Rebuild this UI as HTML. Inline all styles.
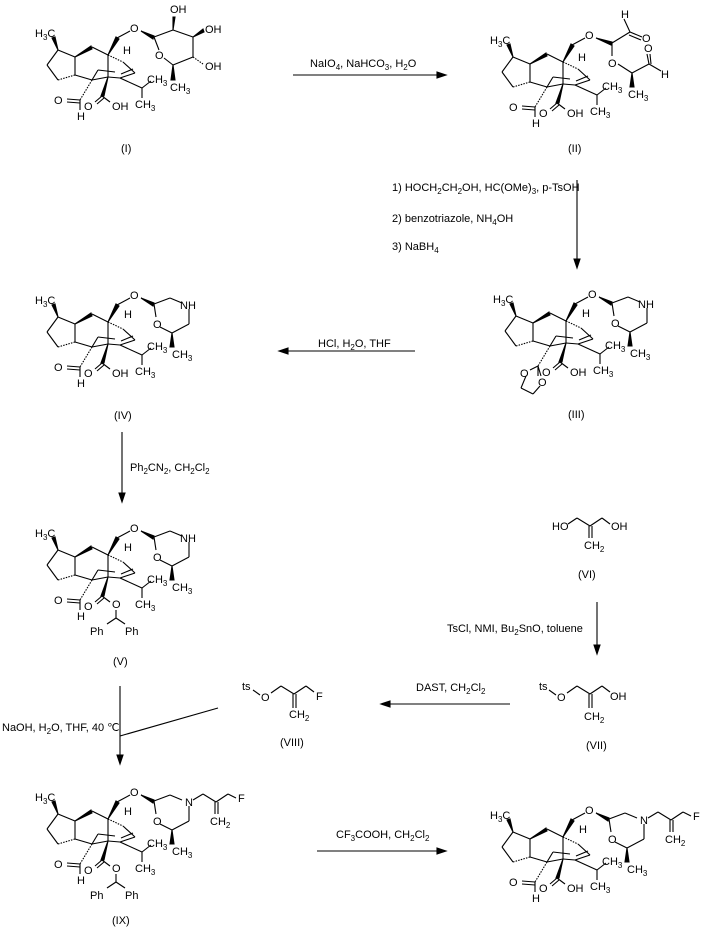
<!DOCTYPE html>
<html><head><meta charset="utf-8"><style>
html,body{margin:0;padding:0;background:#fff;}
svg{display:block;font-family:"Liberation Sans",sans-serif;}
text{font-size:11px;fill:#000;}
.s{font-size:11px;}
</style></head><body>
<svg width="721" height="927" viewBox="0 0 721 927" xmlns="http://www.w3.org/2000/svg">
<defs>
<g id="core" stroke="#000" stroke-width="1.1" fill="none">
  <line x1="38" y1="50" x2="27" y2="65"/>
  <line x1="27" y1="65" x2="38" y2="80"/>
  <line x1="38" y1="80" x2="55" y2="75" stroke-dasharray="1.5,1.2"/>
  <line x1="55" y1="75" x2="55" y2="57"/>
  <line x1="55" y1="57" x2="38" y2="50"/>
  <polygon points="38,50 32,38 35,37" fill="#000"/>
  <polygon points="55,57 71,46 72,49" fill="#000"/>
  <line x1="72" y1="47" x2="88" y2="55"/>
  <line x1="55" y1="75" x2="72" y2="80"/>
  <line x1="72" y1="80" x2="88" y2="77"/>
  <polygon points="88,55 96,37 99,39" fill="#000"/>
  <line x1="97" y1="38" x2="110" y2="31"/>
  <line x1="88" y1="55" x2="88" y2="77"/>
  <line x1="88" y1="55" x2="103" y2="62" stroke-dasharray="1.5,1.2"/>
  <line x1="103" y1="62" x2="115" y2="73"/>
  <line x1="115" y1="73" x2="100" y2="78"/>
  <line x1="113" y1="69" x2="101" y2="74"/>
  <line x1="100" y1="78" x2="88" y2="77"/>
  <line x1="72" y1="80" x2="78" y2="70"/>
  <line x1="78" y1="70" x2="95" y2="72"/>
  <line x1="100" y1="78" x2="122" y2="88"/>
  <line x1="122" y1="88" x2="131" y2="81"/>
  <line x1="122" y1="88" x2="122" y2="98"/>
  <line x1="72" y1="80" x2="60" y2="100" stroke-dasharray="1.5,1.2"/>
  <polygon points="88,77 81,96 84,96" fill="#000"/>
  <line x1="82" y1="96" x2="75" y2="102"/>
  <line x1="84" y1="98" x2="77" y2="104"/>
  <line x1="82" y1="96" x2="90" y2="102"/>
  <line x1="60" y1="100" x2="60" y2="110"/>
</g>
<g id="cho" stroke="#000" stroke-width="1.1" fill="none">
  <line x1="60" y1="100" x2="47" y2="99"/>
  <line x1="60" y1="103" x2="47" y2="102"/>
</g>
<g id="morph" stroke="#000" stroke-width="1.1" fill="none">
  <polygon points="121,31 134,36 133,39" fill="#000"/>
  <line x1="134" y1="37" x2="150" y2="31"/>
  <line x1="150" y1="31" x2="162" y2="36"/>
  <line x1="169" y1="42" x2="169" y2="57"/>
  <line x1="169" y1="57" x2="152" y2="66"/>
  <line x1="152" y1="66" x2="140" y2="60"/>
  <line x1="134" y1="37" x2="136" y2="50"/>
  <polygon points="152,66 150,80 154,80" fill="#000"/>
</g>
</defs>

<!-- (I) -->
<g transform="translate(20,0)">
  <use href="#core"/><use href="#cho"/>
  <text x="15" y="37">H<tspan font-size="8" dy="3">3</tspan><tspan dy="-3">C</tspan></text>
  <text x="103" y="54">H</text>
  <text x="110" y="32">O</text>
  <text x="34" y="104">O</text><text x="57" y="120">H</text>
  <text x="64" y="110">O</text><text x="92" y="110">OH</text>
  <text x="127" y="83">CH<tspan font-size="8" dy="3">3</tspan></text>
  <text x="115" y="108">CH<tspan font-size="8" dy="3">3</tspan></text>
  <g stroke="#000" stroke-width="1.1" fill="none">
    <polygon points="121,31 134,36 133,39" fill="#000"/>
    <line x1="134" y1="37" x2="153" y2="30"/>
    <polygon points="153,30 153,17 155,17" fill="#000"/>
    <line x1="153" y1="30" x2="173" y2="37"/>
    <polygon points="173,37 183,29 184,32" fill="#000"/>
    <line x1="173" y1="37" x2="173" y2="57"/>
    <line x1="173" y1="57" x2="183" y2="64" stroke-dasharray="1.5,1.2"/>
    <line x1="173" y1="57" x2="153" y2="65"/>
    <polygon points="153,65 151,80 155,80" fill="#000"/>
    <line x1="153" y1="65" x2="144" y2="58"/>
    <line x1="134" y1="37" x2="139" y2="50"/>
  </g>
  <text x="135" y="59">O</text>
  <text x="150" y="13">OH</text>
  <text x="185" y="33">OH</text>
  <text x="185" y="70">OH</text>
  <text x="150" y="91">CH<tspan font-size="8" dy="3">3</tspan></text>
</g>
<text x="121" y="152">(I)</text>

<!-- (II) -->
<g transform="translate(475,7)">
  <use href="#core"/><use href="#cho"/>
  <text x="15" y="37">H<tspan font-size="8" dy="3">3</tspan><tspan dy="-3">C</tspan></text>
  <text x="103" y="54">H</text>
  <text x="110" y="32">O</text>
  <text x="34" y="104">O</text><text x="57" y="120">H</text>
  <text x="64" y="110">O</text><text x="92" y="110">OH</text>
  <text x="127" y="83">CH<tspan font-size="8" dy="3">3</tspan></text>
  <text x="115" y="108">CH<tspan font-size="8" dy="3">3</tspan></text>
  <g stroke="#000" stroke-width="1.1" fill="none">
    <polygon points="121,31 137,35 136,38" fill="#000"/>
    <line x1="137" y1="36" x2="155" y2="25"/>
    <line x1="155" y1="25" x2="149" y2="12"/>
    <line x1="155" y1="25" x2="167" y2="30"/>
    <line x1="154" y1="28" x2="166" y2="33"/>
    <line x1="137" y1="36" x2="137" y2="49"/>
    <line x1="143" y1="57" x2="157" y2="66"/>
    <line x1="157" y1="66" x2="174" y2="57"/>
    <line x1="174" y1="57" x2="172" y2="47"/>
    <line x1="176" y1="57" x2="175" y2="47"/>
    <line x1="174" y1="57" x2="186" y2="64"/>
    <polygon points="157,66 155,80 159,80" fill="#000"/>
  </g>
  <text x="146" y="11">H</text>
  <text x="167" y="35">O</text>
  <text x="133" y="60">O</text>
  <text x="169" y="45">O</text>
  <text x="186" y="71">H</text>
  <text x="153" y="91">CH<tspan font-size="8" dy="3">3</tspan></text>
</g>
<text x="568" y="152">(II)</text>

<!-- (III) -->
<g transform="translate(478,266)">
  <use href="#core"/><use href="#morph"/>
  <text x="15" y="37">H<tspan font-size="8" dy="3">3</tspan><tspan dy="-3">C</tspan></text>
  <text x="104" y="51">H</text>
  <text x="110" y="32">O</text>
  <text x="160" y="42">NH</text>
  <text x="133" y="61">O</text>
  <text x="152" y="91">CH<tspan font-size="8" dy="3">3</tspan></text>
  <text x="64" y="110">O</text><text x="92" y="110">OH</text>
  <text x="127" y="83">CH<tspan font-size="8" dy="3">3</tspan></text>
  <text x="115" y="108">CH<tspan font-size="8" dy="3">3</tspan></text>
  <g stroke="#000" stroke-width="1.1" fill="none">
    <line x1="60" y1="100" x2="52" y2="104"/><line x1="60" y1="100" x2="63" y2="110"/>
    <line x1="48" y1="110" x2="43" y2="122"/><line x1="43" y1="122" x2="55" y2="128"/><line x1="55" y1="128" x2="62" y2="120"/>
  </g>
  <text x="42" y="111">O</text><text x="60" y="120">O</text>
</g>
<text x="568" y="418">(III)</text>

<!-- (IV) -->
<g transform="translate(20,267)">
  <use href="#core"/><use href="#cho"/><use href="#morph"/>
  <text x="15" y="37">H<tspan font-size="8" dy="3">3</tspan><tspan dy="-3">C</tspan></text>
  <text x="104" y="51">H</text>
  <text x="110" y="32">O</text>
  <text x="160" y="42">NH</text>
  <text x="133" y="61">O</text>
  <text x="152" y="91">CH<tspan font-size="8" dy="3">3</tspan></text>
  <text x="34" y="104">O</text><text x="57" y="120">H</text>
  <text x="64" y="110">O</text><text x="92" y="110">OH</text>
  <text x="127" y="83">CH<tspan font-size="8" dy="3">3</tspan></text>
  <text x="115" y="108">CH<tspan font-size="8" dy="3">3</tspan></text>
</g>
<text x="114" y="419">(IV)</text>

<!-- (V) -->
<g transform="translate(20,500)">
  <use href="#core"/><use href="#cho"/><use href="#morph"/>
  <text x="15" y="37">H<tspan font-size="8" dy="3">3</tspan><tspan dy="-3">C</tspan></text>
  <text x="104" y="51">H</text>
  <text x="110" y="32">O</text>
  <text x="160" y="42">NH</text>
  <text x="133" y="61">O</text>
  <text x="152" y="91">CH<tspan font-size="8" dy="3">3</tspan></text>
  <text x="34" y="104">O</text><text x="57" y="120">H</text>
  <text x="64" y="110">O</text><text x="92" y="108">O</text>
  <text x="127" y="83">CH<tspan font-size="8" dy="3">3</tspan></text>
  <text x="115" y="108">CH<tspan font-size="8" dy="3">3</tspan></text>
  <g stroke="#000" stroke-width="1.1" fill="none">
    <line x1="96" y1="110" x2="96" y2="118"/><line x1="96" y1="118" x2="87" y2="124"/><line x1="96" y1="118" x2="105" y2="124"/>
  </g>
  <text x="70" y="135">Ph</text><text x="105" y="135">Ph</text>
</g>
<text x="113" y="665">(V)</text>

<!-- (IX) -->
<g transform="translate(20,764)">
  <use href="#core"/><use href="#cho"/><use href="#morph"/>
  <text x="15" y="37">H<tspan font-size="8" dy="3">3</tspan><tspan dy="-3">C</tspan></text>
  <text x="104" y="51">H</text>
  <text x="110" y="32">O</text>
  <text x="165" y="42">N</text>
  <text x="133" y="61">O</text>
  <text x="152" y="91">CH<tspan font-size="8" dy="3">3</tspan></text>
  <text x="34" y="104">O</text><text x="57" y="120">H</text>
  <text x="64" y="110">O</text><text x="92" y="108">O</text>
  <text x="127" y="83">CH<tspan font-size="8" dy="3">3</tspan></text>
  <text x="115" y="108">CH<tspan font-size="8" dy="3">3</tspan></text>
  <g stroke="#000" stroke-width="1.1" fill="none">
    <line x1="96" y1="110" x2="96" y2="118"/><line x1="96" y1="118" x2="87" y2="124"/><line x1="96" y1="118" x2="105" y2="124"/>
    <line x1="173" y1="36" x2="183" y2="30"/><line x1="183" y1="30" x2="196" y2="38"/><line x1="196" y1="38" x2="208" y2="30"/><line x1="208" y1="30" x2="216" y2="34"/>
    <line x1="195" y1="38" x2="195" y2="50"/><line x1="198" y1="38" x2="198" y2="50"/>
  </g>
  <text x="218" y="38">F</text>
  <text x="190" y="61">CH<tspan font-size="8" dy="3">2</tspan></text>
  <text x="70" y="135">Ph</text><text x="105" y="135">Ph</text>
</g>
<text x="112" y="924">(IX)</text>

<!-- final -->
<g transform="translate(475,782)">
  <use href="#core"/><use href="#cho"/><use href="#morph"/>
  <text x="15" y="37">H<tspan font-size="8" dy="3">3</tspan><tspan dy="-3">C</tspan></text>
  <text x="104" y="51">H</text>
  <text x="110" y="32">O</text>
  <text x="165" y="42">N</text>
  <text x="133" y="61">O</text>
  <text x="152" y="91">CH<tspan font-size="8" dy="3">3</tspan></text>
  <text x="34" y="104">O</text><text x="57" y="120">H</text>
  <text x="64" y="110">O</text><text x="92" y="110">OH</text>
  <text x="127" y="83">CH<tspan font-size="8" dy="3">3</tspan></text>
  <text x="115" y="108">CH<tspan font-size="8" dy="3">3</tspan></text>
  <g stroke="#000" stroke-width="1.1" fill="none">
    <line x1="173" y1="36" x2="183" y2="30"/><line x1="183" y1="30" x2="196" y2="38"/><line x1="196" y1="38" x2="208" y2="30"/><line x1="208" y1="30" x2="216" y2="34"/>
    <line x1="195" y1="38" x2="195" y2="50"/><line x1="198" y1="38" x2="198" y2="50"/>
  </g>
  <text x="218" y="38">F</text>
  <text x="190" y="61">CH<tspan font-size="8" dy="3">2</tspan></text>
</g>

<!-- (VI) -->
<g stroke="#000" stroke-width="1.1" fill="none">
  <line x1="568" y1="524" x2="577" y2="518"/><line x1="577" y1="518" x2="590" y2="526"/><line x1="590" y1="526" x2="602" y2="518"/><line x1="602" y1="518" x2="610" y2="524"/>
  <line x1="589" y1="526" x2="589" y2="538"/><line x1="592" y1="526" x2="592" y2="538"/>
</g>
<text x="552" y="530">HO</text><text x="611" y="530">OH</text>
<text x="584" y="549">CH<tspan font-size="8" dy="3">2</tspan></text>
<text x="578" y="578">(VI)</text>

<!-- (VII) -->
<g stroke="#000" stroke-width="1.1" fill="none">
  <line x1="549" y1="690" x2="556" y2="695"/>
  <line x1="567" y1="693" x2="577" y2="686"/><line x1="577" y1="686" x2="590" y2="694"/><line x1="590" y1="694" x2="602" y2="686"/><line x1="602" y1="686" x2="610" y2="692"/>
  <line x1="589" y1="694" x2="589" y2="708"/><line x1="592" y1="694" x2="592" y2="708"/>
</g>
<text x="539" y="690">ts</text><text x="557" y="701">O</text><text x="610" y="700">OH</text>
<text x="584" y="720">CH<tspan font-size="8" dy="3">2</tspan></text>
<text x="586" y="749">(VII)</text>

<!-- (VIII) -->
<g stroke="#000" stroke-width="1.1" fill="none">
  <line x1="253" y1="690" x2="260" y2="695"/>
  <line x1="271" y1="693" x2="281" y2="686"/><line x1="281" y1="686" x2="294" y2="694"/><line x1="294" y1="694" x2="306" y2="686"/><line x1="306" y1="686" x2="314" y2="692"/>
  <line x1="293" y1="694" x2="293" y2="708"/><line x1="296" y1="694" x2="296" y2="708"/>
</g>
<text x="242" y="690">ts</text><text x="261" y="701">O</text><text x="316" y="700">F</text>
<text x="289" y="718">CH<tspan font-size="8" dy="3">2</tspan></text>
<text x="280" y="746">(VIII)</text>

<!-- arrows -->
<g stroke="#000" stroke-width="1.1" fill="#000">
  <line x1="293" y1="75" x2="440" y2="75"/><polygon points="446,75 437,72 437,78"/>
  <line x1="577" y1="180" x2="577" y2="262"/><polygon points="577,268 574,259 580,259"/>
  <line x1="415" y1="351" x2="285" y2="351"/><polygon points="279,351 288,348 288,354"/>
  <line x1="122" y1="432" x2="122" y2="496"/><polygon points="122,502 119,493 125,493"/>
  <line x1="597" y1="602" x2="597" y2="648"/><polygon points="597,654 594,645 600,645"/>
  <line x1="510" y1="704" x2="387" y2="704"/><polygon points="381,704 390,701 390,707"/>
  <line x1="120" y1="686" x2="120" y2="758"/><polygon points="120,764 117,755 123,755"/>
  <line x1="120" y1="736" x2="218" y2="708"/>
  <line x1="317" y1="851" x2="440" y2="851"/><polygon points="446,851 437,848 437,854"/>
</g>

<!-- reagents -->
<text x="310" y="67" class="s">NaIO<tspan font-size="8" dy="3">4</tspan><tspan dy="-3">, NaHCO</tspan><tspan font-size="8" dy="3">3</tspan><tspan dy="-3">, H</tspan><tspan font-size="8" dy="3">2</tspan><tspan dy="-3">O</tspan></text>
<text x="392" y="191">1) HOCH<tspan font-size="8" dy="3">2</tspan><tspan dy="-3">CH</tspan><tspan font-size="8" dy="3">2</tspan><tspan dy="-3">OH, HC(OMe)</tspan><tspan font-size="8" dy="3">3</tspan><tspan dy="-3">, p-TsOH</tspan></text>
<text x="392" y="222">2) benzotriazole, NH<tspan font-size="8" dy="3">4</tspan><tspan dy="-3">OH</tspan></text>
<text x="392" y="250">3) NaBH<tspan font-size="8" dy="3">4</tspan></text>
<text x="318" y="347">HCl, H<tspan font-size="8" dy="3">2</tspan><tspan dy="-3">O, THF</tspan></text>
<text x="130" y="471">Ph<tspan font-size="8" dy="3">2</tspan><tspan dy="-3">CN</tspan><tspan font-size="8" dy="3">2</tspan><tspan dy="-3">, CH</tspan><tspan font-size="8" dy="3">2</tspan><tspan dy="-3">Cl</tspan><tspan font-size="8" dy="3">2</tspan></text>
<text x="447" y="632">TsCl, NMI, Bu<tspan font-size="8" dy="3">2</tspan><tspan dy="-3">SnO, toluene</tspan></text>
<text x="416" y="691">DAST, CH<tspan font-size="8" dy="3">2</tspan><tspan dy="-3">Cl</tspan><tspan font-size="8" dy="3">2</tspan></text>
<text x="2" y="731">NaOH, H<tspan font-size="8" dy="3">2</tspan><tspan dy="-3">O, THF, 40 ℃</tspan></text>
<text x="336" y="838">CF<tspan font-size="8" dy="3">3</tspan><tspan dy="-3">COOH, CH</tspan><tspan font-size="8" dy="3">2</tspan><tspan dy="-3">Cl</tspan><tspan font-size="8" dy="3">2</tspan></text>
</svg>
</body></html>
